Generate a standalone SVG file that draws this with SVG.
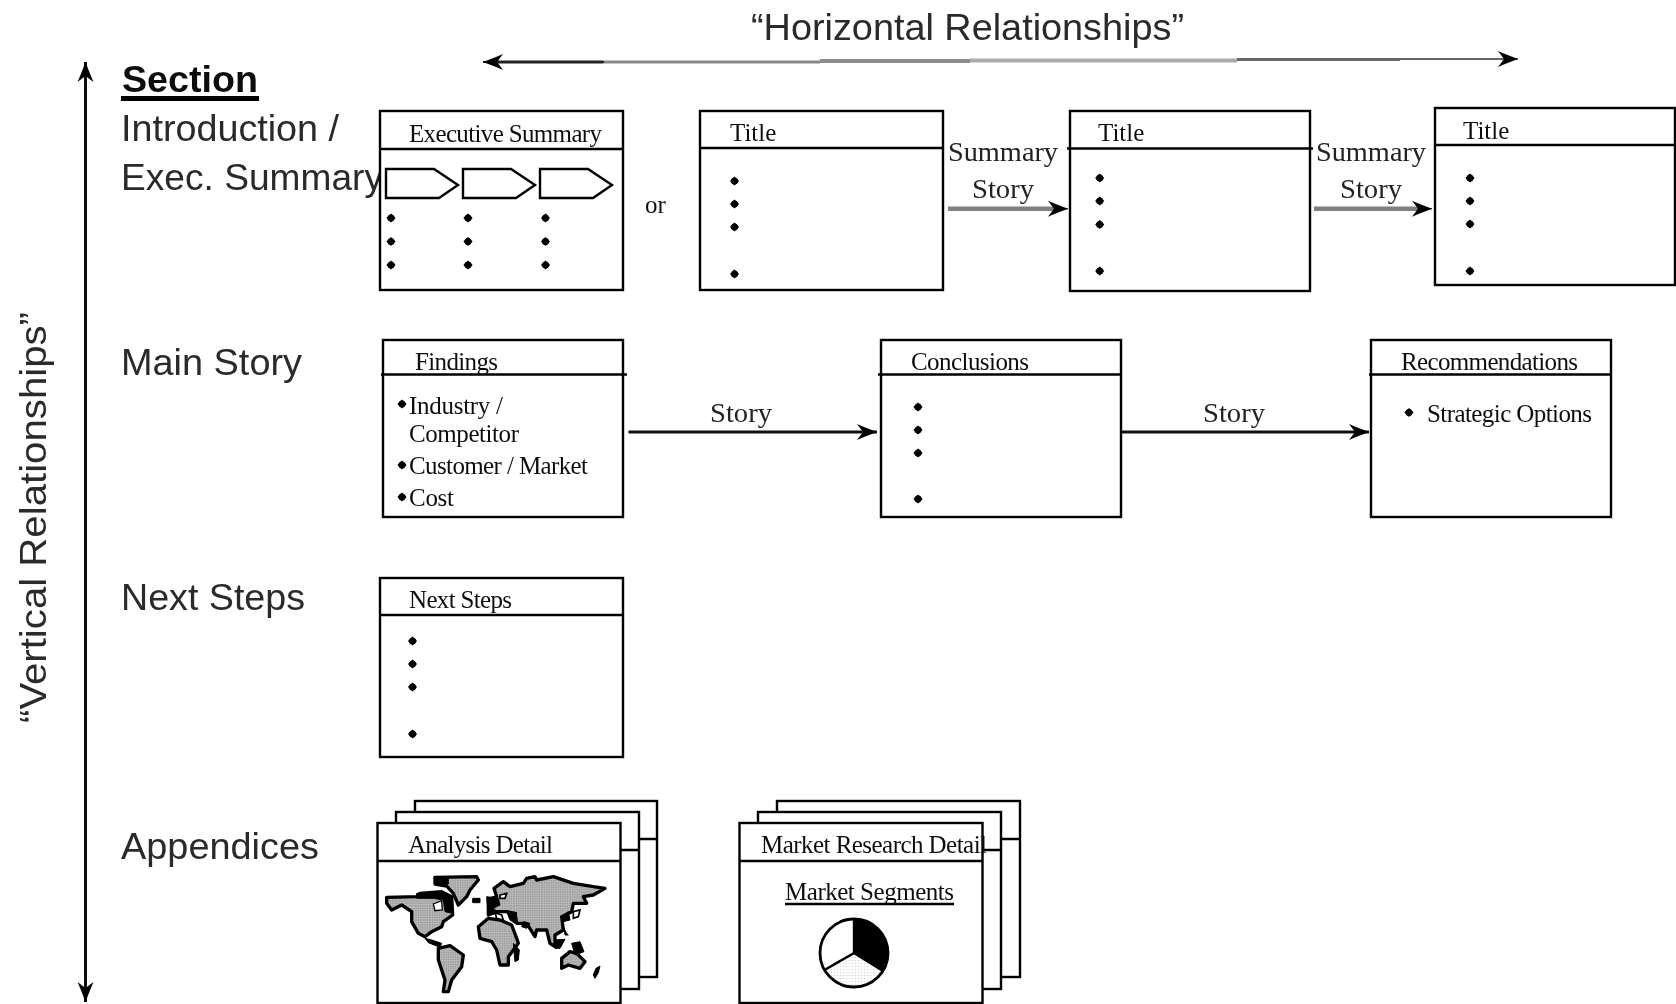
<svg xmlns="http://www.w3.org/2000/svg" width="1676" height="1004" viewBox="0 0 1676 1004">
<style>
.s{font-family:"Liberation Sans",Arial,sans-serif;font-size:37px;fill:#2a2a2a}
.sb{font-family:"Liberation Sans",Arial,sans-serif;font-size:37px;font-weight:700;fill:#111}
.r{font-family:"Liberation Serif","Times New Roman",serif;font-size:25px;fill:#111}
.l{font-family:"Liberation Serif","Times New Roman",serif;font-size:28px;fill:#222}
.b{fill:#fff;stroke:#000;stroke-width:2.4}
.h{stroke:#000;stroke-width:2.4;fill:none}
.c{stroke:#111;stroke-width:3;fill:none}
.g{stroke:#808080;stroke-width:4.500;fill:none}
.pt{fill:#fff;stroke:#000;stroke-width:2.4}
.m{fill:url(#mesh);stroke:#000;stroke-width:10;stroke-linejoin:round}
.k{fill:#000;stroke:#000;stroke-width:3}
</style>
<defs>
<filter id="soft" x="0" y="0" width="1676" height="1004" filterUnits="userSpaceOnUse" primitiveUnits="userSpaceOnUse"><feGaussianBlur stdDeviation="0.55"/></filter>
<pattern id="mesh" width="14" height="14" patternUnits="userSpaceOnUse"><rect width="14" height="14" fill="#8f8f8f"/><path d="M0 3.500H14M0 10.500H14M3.500 0V14M10.500 0V14" stroke="#c4c4c4" stroke-width="2.4"/></pattern>
<pattern id="stip" width="3" height="3" patternUnits="userSpaceOnUse"><rect width="3" height="3" fill="#fff"/><circle cx="1.500" cy="1.500" r=".8" fill="#ddd"/></pattern>
<marker id="ah" viewBox="0 0 22 17" refX="22" refY="8.500" markerWidth="22" markerHeight="17" markerUnits="userSpaceOnUse" orient="auto-start-reverse"><path d="M22 8.500L9 3.500L2 .5L8 8.500L2 16.500L9 13.500Z" fill="#000"/></marker>
<g id="dot"><path d="M0-4.600L4.600 0L0 4.600L-4.600 0Z" fill="#000"/><circle r="3.500" fill="#000"/></g>
<g id="pent"><path d="M0 0H48L72 16L53 29H0Z" class="pt"/></g>
</defs>
<rect width="1676" height="1004" fill="#fff"/>
<g filter="url(#soft)">
<g id="connectors">
<path class="c" d="M85.500 1002V62" stroke-width="2.800" marker-start="url(#ah)" marker-end="url(#ah)"/>
<path d="M490 62H603" stroke="#222" stroke-width="3" fill="none"/>
<path d="M603 62H820" stroke="#888" stroke-width="3" fill="none"/>
<path d="M820 61H970" stroke="#8c8c8c" stroke-width="4" fill="none"/>
<path d="M970 60.500H1237" stroke="#aaa" stroke-width="4" fill="none"/>
<path d="M1237 59.500H1400" stroke="#666" stroke-width="3" fill="none"/>
<path d="M1400 59H1518" stroke="#666" stroke-width="2" fill="none" marker-end="url(#ah)"/>
<path d="M604 62H483" stroke="#222" stroke-width="2" fill="none" marker-end="url(#ah)"/>
<path class="g" d="M948 208.700H1060"/><path d="M1058 208.700H1068" fill="none" stroke="#555" stroke-width="1.500" marker-end="url(#ah)"/>
<path class="g" d="M1314 208.700H1424"/><path d="M1422 208.700H1432" fill="none" stroke="#555" stroke-width="1.500" marker-end="url(#ah)"/>
<path class="c" d="M628.500 432H877" marker-end="url(#ah)"/>
<path class="c" d="M1121 432H1369" marker-end="url(#ah)"/>
</g>
<g id="labels">
<text class="s" x="751" y="40" textLength="433" lengthAdjust="spacingAndGlyphs">“Horizontal Relationships”</text>
<text class="sb" x="122" y="92" textLength="136" lengthAdjust="spacingAndGlyphs">Section</text>
<path d="M121 98.500H259" stroke="#000" stroke-width="5"/>
<text class="s" x="121" y="141" textLength="218" lengthAdjust="spacingAndGlyphs">Introduction /</text>
<text class="s" x="121" y="190" textLength="262" lengthAdjust="spacingAndGlyphs">Exec. Summary</text>
<text class="s" x="121" y="375" textLength="181" lengthAdjust="spacingAndGlyphs">Main Story</text>
<text class="s" x="121" y="610" textLength="184" lengthAdjust="spacingAndGlyphs">Next Steps</text>
<text class="s" x="121" y="859" textLength="198" lengthAdjust="spacingAndGlyphs">Appendices</text>
<text class="s" transform="translate(46 723) rotate(-90)" textLength="411" lengthAdjust="spacingAndGlyphs">“Vertical Relationships”</text>
<text class="r" x="645" y="213">or</text>
<text class="l" x="948" y="161" textLength="110" lengthAdjust="spacingAndGlyphs">Summary</text>
<text class="l" x="972" y="198" textLength="62" lengthAdjust="spacingAndGlyphs">Story</text>
<text class="l" x="1316" y="161" textLength="110" lengthAdjust="spacingAndGlyphs">Summary</text>
<text class="l" x="1340" y="198" textLength="62" lengthAdjust="spacingAndGlyphs">Story</text>
<text class="l" x="710" y="422" textLength="62" lengthAdjust="spacingAndGlyphs">Story</text>
<text class="l" x="1203" y="422" textLength="62" lengthAdjust="spacingAndGlyphs">Story</text>
</g>
<g id="node-exec">
<rect class="b" x="380" y="111" width="243" height="179"/><path class="h" d="M380 149H623"/>
<text class="r" x="409" y="141.500" textLength="193" lengthAdjust="spacing">Executive Summary</text>
<use href="#pent" x="386" y="169"/><use href="#pent" x="463" y="169"/><use href="#pent" x="540" y="169"/>
<use href="#dot" x="391" y="218"/><use href="#dot" x="391" y="241.500"/><use href="#dot" x="391" y="265"/>
<use href="#dot" x="468" y="218"/><use href="#dot" x="468" y="241.500"/><use href="#dot" x="468" y="265"/>
<use href="#dot" x="545.500" y="218"/><use href="#dot" x="545.500" y="241.500"/><use href="#dot" x="545.500" y="265"/>
</g>
<g id="node-title-1">
<rect class="b" x="700" y="111" width="243" height="179"/><path class="h" d="M700 148H943"/>
<text class="r" x="730" y="141">Title</text>
<use href="#dot" x="734.500" y="181"/><use href="#dot" x="734.500" y="204"/><use href="#dot" x="734.500" y="227"/><use href="#dot" x="734.500" y="274"/>
</g>
<g id="node-title-2">
<rect class="b" x="1070" y="111" width="240" height="180"/><path class="h" d="M1067 148.500H1313"/>
<text class="r" x="1098" y="141">Title</text>
<use href="#dot" x="1099.700" y="178"/><use href="#dot" x="1099.700" y="201"/><use href="#dot" x="1099.700" y="224.500"/><use href="#dot" x="1099.700" y="271"/>
</g>
<g id="node-title-3">
<rect class="b" x="1435" y="108" width="240" height="177"/><path class="h" d="M1435 145H1675"/>
<text class="r" x="1463" y="138.500">Title</text>
<use href="#dot" x="1470" y="178"/><use href="#dot" x="1470" y="201"/><use href="#dot" x="1470" y="224"/><use href="#dot" x="1470" y="271"/>
</g>
<g id="node-findings">
<rect class="b" x="383" y="340" width="240" height="177"/><path class="h" d="M381 374.500H627"/>
<text class="r" x="415" y="370" textLength="83" lengthAdjust="spacing">Findings</text>
<use href="#dot" x="402" y="404"/><use href="#dot" x="402" y="465"/><use href="#dot" x="402" y="497"/>
<text class="r" x="409" y="414" textLength="94" lengthAdjust="spacing">Industry /</text>
<text class="r" x="409" y="442" textLength="110" lengthAdjust="spacing">Competitor</text>
<text class="r" x="409" y="474" textLength="179" lengthAdjust="spacing">Customer / Market</text>
<text class="r" x="409" y="506" textLength="45" lengthAdjust="spacing">Cost</text>
</g>
<g id="node-conclusions">
<rect class="b" x="881" y="340" width="240" height="177"/><path class="h" d="M878 374.500H1121"/>
<text class="r" x="911" y="370" textLength="118" lengthAdjust="spacing">Conclusions</text>
<use href="#dot" x="918" y="407"/><use href="#dot" x="918" y="430"/><use href="#dot" x="918" y="453"/><use href="#dot" x="918" y="499"/>
</g>
<g id="node-recommendations">
<rect class="b" x="1371" y="340" width="240" height="177"/><path class="h" d="M1369 374.500H1611"/>
<text class="r" x="1401" y="370" textLength="177" lengthAdjust="spacing">Recommendations</text>
<use href="#dot" x="1409" y="412.500"/>
<text class="r" x="1427" y="422" textLength="165" lengthAdjust="spacing">Strategic Options</text>
</g>
<g id="node-next-steps">
<rect class="b" x="380" y="578" width="243" height="179"/><path class="h" d="M380 615H623"/>
<text class="r" x="409" y="608" textLength="103" lengthAdjust="spacing">Next Steps</text>
<use href="#dot" x="412.500" y="641"/><use href="#dot" x="412.500" y="664"/><use href="#dot" x="412.500" y="687"/><use href="#dot" x="412.500" y="734"/>
</g>
<g id="node-analysis">
<rect class="b" x="415" y="801" width="242" height="176"/><path class="h" d="M415 839H657"/>
<rect class="b" x="396" y="812" width="243" height="177"/><path class="h" d="M396 850H639"/>
<rect class="b" x="377.500" y="823" width="243" height="180"/><path class="h" d="M377.500 861H620.500"/>
<text class="r" x="408" y="853" textLength="145" lengthAdjust="spacing">Analysis Detail</text>
<g transform="translate(360 780) scale(.33333)">
<path class="m" d="M80 352L170 350L180 340L245 335L275 350L278 405L250 425L245 440L215 455L195 470L175 460L155 425L155 395L125 375L95 390L80 370Z"/>
<path class="k" d="M170 340L245 335L275 350L278 400L255 395L250 360L220 355L170 355Z"/>
<path d="M220 372L245 362L247 390L225 392Z" fill="#fff" stroke="#000" stroke-width="4"/>
<path class="m" d="M225 292L350 290L355 300L330 330L320 350L295 375L280 340L260 318L225 312Z"/>
<path class="k" d="M222 290H265V312H225Z"/>
<path class="m" d="M235 505L270 497L310 525L305 560L275 600L265 635L250 635L255 600L235 540Z"/>
<path class="k" d="M195 475L215 480L245 490L240 502L205 488Z"/>
<path class="m" d="M355 440L385 415L420 420L455 435L470 475L475 490L445 530L445 555L420 555L410 510L395 485L360 475Z"/>
<path class="m" d="M385 358L410 350L402 325L430 305L450 320L490 310L500 295L525 290L530 300L580 290L640 310L700 320L735 325L700 345L670 350L680 370L640 370L635 395L605 410L610 450L585 465L585 500L570 490L560 450L530 450L525 470L500 430L470 430L465 400L440 395L410 395L385 405Z"/>
<path class="k" d="M380 350L415 355L420 375L400 385L412 395L385 405Z"/>
<path class="k" d="M440 395L470 398L465 430L450 420Z"/>
<path d="M405 398L425 405L430 420L410 415Z" fill="#fff" stroke="#000" stroke-width="5"/>
<path d="M420 345L440 340L435 355L420 355Z" fill="#fff" stroke="#000" stroke-width="5"/>
<path class="m" d="M605 535L630 515L650 520L675 545L660 565L625 555L605 565Z"/>
<path class="k" d="M635 490L660 485L672 515L645 525Z"/>
<path class="k" d="M338 355H360V368H338Z"/>
<path class="k" d="M605 410L625 395L630 420L610 425Z"/>
<path d="M640 395L660 390L655 410L640 415Z" fill="#fff" stroke="#000" stroke-width="5"/>
<path class="k" d="M612 445L620 460L625 465L615 465Z"/>
<path class="k" d="M700 585L708 565L720 558L715 578L705 595Z"/>
<path class="k" d="M490 425L510 430L500 445L485 440Z"/>
<path class="k" d="M585 480L615 478L600 505L585 505Z"/>
<path class="k" d="M460 490L478 510L475 540L465 545L462 515Z"/>
</g>
</g>
<g id="node-market">
<rect class="b" x="777" y="801" width="243" height="176"/><path class="h" d="M777 839H1020"/>
<rect class="b" x="758" y="812" width="243" height="177"/><path class="h" d="M758 850H1001"/>
<rect class="b" x="739.500" y="823" width="243" height="180"/><path class="h" d="M739.500 861H982.500"/>
<text class="r" x="761" y="853" textLength="226" lengthAdjust="spacing">Market Research Detail</text>
<text class="r" x="785" y="900" textLength="169" lengthAdjust="spacing">Market Segments</text>
<path class="h" d="M785 904H954"/>
<g transform="translate(854 953)">
<circle r="34" fill="#fff"/>
<path d="M0 0V-34A34 34 0 0 1 29 18Z" fill="#000"/>
<path d="M0 0L29 18A34 34 0 0 1 -29.500 17Z" fill="url(#stip)"/>
<circle r="34" fill="none" stroke="#000" stroke-width="2.800"/>
<path d="M0-34V0L-29.500 17M0 0L29 18" fill="none" stroke="#000" stroke-width="2.400"/>
</g>
</g>
</g>
</svg>
